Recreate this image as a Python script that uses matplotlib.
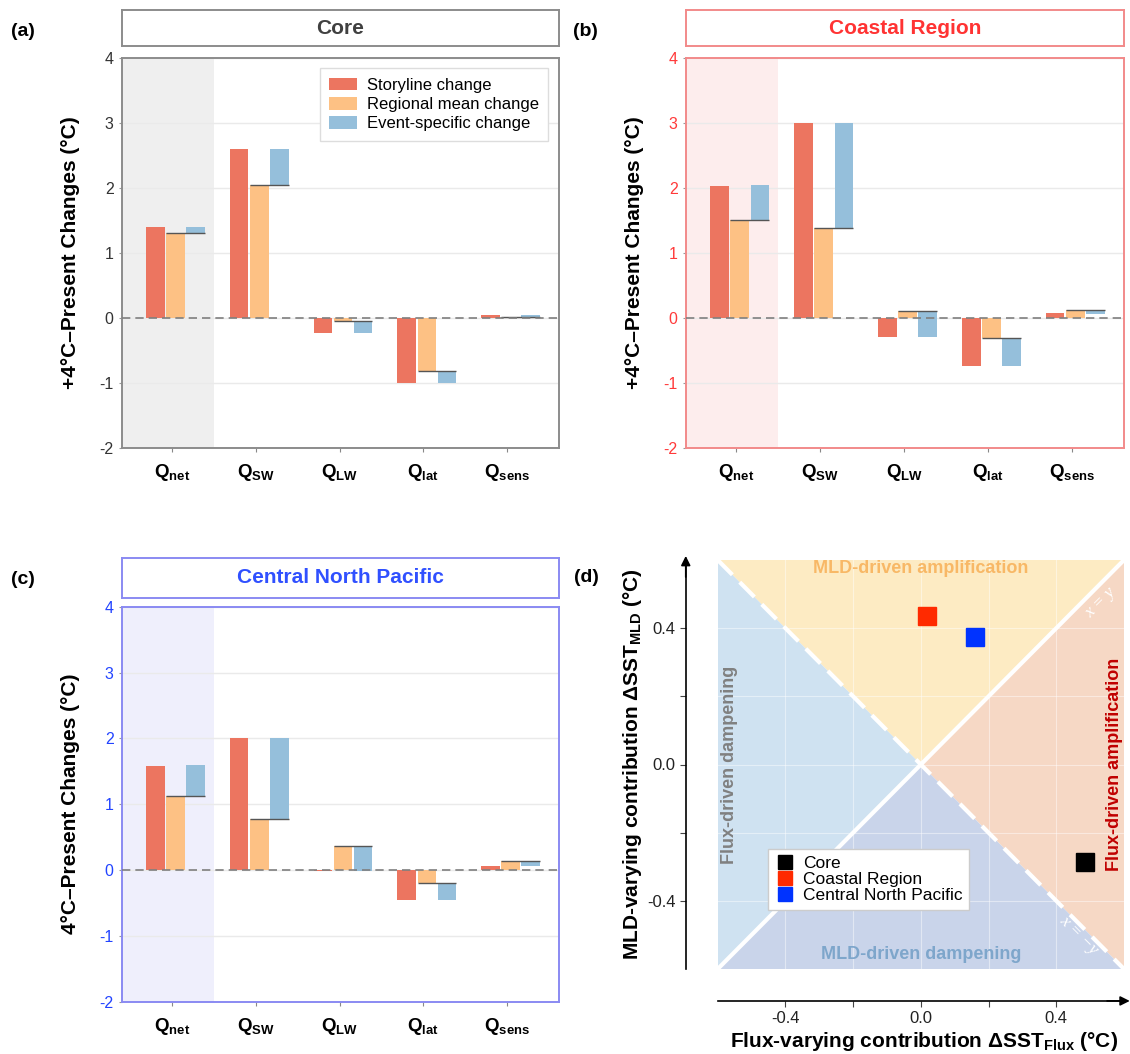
import matplotlib
matplotlib.use('Agg')
import matplotlib.pyplot as plt
import numpy as np

plt.rcParams['font.family'] = ['Liberation Sans', 'DejaVu Sans']
plt.rcParams['mathtext.fontset'] = 'custom'
plt.rcParams['mathtext.rm'] = 'Liberation Sans'
plt.rcParams['mathtext.bf'] = 'Liberation Sans:bold'
plt.rcParams['mathtext.it'] = 'Liberation Sans:italic'
plt.rcParams['axes.unicode_minus'] = False

# ---------------- data ----------------
categories = ['net', 'SW', 'LW', 'lat', 'sens']
tick_labels = [r'$\mathbf{Q_{net}}$', r'$\mathbf{Q_{SW}}$', r'$\mathbf{Q_{LW}}$',
               r'$\mathbf{Q_{lat}}$', r'$\mathbf{Q_{sens}}$']
series_names = ['Storyline change', 'Regional mean change', 'Event-specific change']

core_storyline = [1.40, 2.59, -0.24, -1.00, 0.035]
core_regional = [1.30, 2.04, -0.05, -0.82, 0.010]
core_event = [0.10, 0.56, -0.19, -0.18, 0.025]

coastal_storyline = [2.03, 2.99, -0.30, -0.74, 0.067]
coastal_regional = [1.50, 1.375, 0.10, -0.31, 0.113]
coastal_event = [0.54, 1.625, -0.40, -0.43, -0.05]

cnp_storyline = [1.58, 2.00, -0.01, -0.456, 0.056]
cnp_regional = [1.13, 0.78, 0.365, -0.198, 0.13]
cnp_event = [0.46, 1.22, -0.385, -0.26, -0.075]

region_names = ['Core', 'Coastal Region', 'Central North Pacific']
flux_contrib = [0.485, 0.019, 0.159]
mld_contrib = [-0.286, 0.437, 0.374]

# ---------------- style ----------------
C_STORY = '#EC7560'
C_REG = '#FDC184'
C_EVT = '#95BFDB'
W, H = 1130, 1054
fig = plt.figure(figsize=(W / 100, H / 100), dpi=100)


def fbox(x0, y0, x1, y1):
    return [x0 / W, 1 - y1 / H, (x1 - x0) / W, (y1 - y0) / H]


offsets = [-0.2, 0.04, 0.28]
bw = 0.22


def bar_panel(ax_rect, title_rect, storyline, regional, event, title, title_color,
              edge_color, tick_color, shade_color, ylabel, legend=False):
    ax = fig.add_axes(ax_rect)
    tax = fig.add_axes(title_rect)
    x = np.arange(len(categories))
    ax.set_xlim(-0.6, 4.62)
    ax.set_ylim(-2, 4)
    ax.axvspan(-0.6, 0.5, color=shade_color, zorder=0, lw=0)
    ax.set_axisbelow(True)
    ax.yaxis.grid(True, color='#EAEAEA', lw=1.0)
    ax.bar(x + offsets[0], storyline, width=bw, color=C_STORY, lw=0, zorder=2,
           label=series_names[0])
    ax.bar(x + offsets[1], regional, width=bw, color=C_REG, lw=0, zorder=2,
           label=series_names[1])
    ax.bar(x + offsets[2], event, bottom=regional, width=bw, color=C_EVT, lw=0,
           zorder=2, label=series_names[2])
    ax.hlines(regional, x + offsets[1] - bw / 2, x + offsets[2] + bw / 2,
              color='#555555', lw=1.0, zorder=3)
    ax.axhline(0, color='#7F7F7F', ls=(0, (5, 3)), lw=1.2, zorder=4)
    ax.set_xticks(x)
    ax.set_xticklabels(tick_labels, fontsize=13.5)
    ax.set_yticks(np.arange(-2, 5))
    ax.tick_params(axis='x', length=3, color='#888888', pad=7)
    ax.tick_params(axis='y', length=2, colors=tick_color, labelsize=11.5, pad=4)
    ax.tick_params(axis='y', color='#999999')
    for s in ax.spines.values():
        s.set_color(edge_color)
        s.set_linewidth(1.4)
    ax.set_ylabel(ylabel, fontsize=15, fontweight='bold', color='black',
                  va='center')
    ax.yaxis.set_label_coords(-0.117, 0.5)
    tax.set_xticks([])
    tax.set_yticks([])
    for s in tax.spines.values():
        s.set_color(edge_color)
        s.set_linewidth(1.4)
    tax.text(0.5, 0.5, title, ha='center', va='center', fontsize=15,
             fontweight='bold', color=title_color, transform=tax.transAxes)
    if legend:
        ax.legend(loc='upper right', fontsize=12, frameon=True, fancybox=False,
                  edgecolor='#DDDDDD', framealpha=1, handlelength=1.7,
                  handleheight=0.8, labelspacing=0.25, borderaxespad=0.65,
                  borderpad=0.55, handletextpad=0.6)
    return ax


bar_panel(fbox(122, 57.5, 559, 447.7), fbox(122, 10, 559, 46),
          core_storyline, core_regional, core_event, 'Core', '#404040',
          '#8C8C8C', '#333333', '#EFEFEF', '+4°C–Present Changes (°C)', legend=True)
bar_panel(fbox(686, 57.5, 1124, 447.7), fbox(686, 10, 1124, 46),
          coastal_storyline, coastal_regional, coastal_event, 'Coastal Region',
          '#FF3333', '#F28A8A', '#FF3A3A', '#FDEDED', '+4°C–Present Changes (°C)')
bar_panel(fbox(122, 606.7, 559, 1001.7), fbox(122, 558, 559, 597.7),
          cnp_storyline, cnp_regional, cnp_event, 'Central North Pacific',
          '#3050FF', '#8A8AF2', '#2244FF', '#EFEFFC', '4°C–Present Changes (°C)')

# ---------------- panel d ----------------
ax = fig.add_axes(fbox(717.7, 560, 1124, 969))
L = 0.6
ax.set_xlim(-L, L)
ax.set_ylim(-L, L)
ax.fill([-L, L, 0], [L, L, 0], color='#FDEBC3', lw=0, zorder=0.2)
ax.fill([L, L, 0], [L, -L, 0], color='#F6D8C5', lw=0, zorder=0.2)
ax.fill([-L, -L, 0], [L, -L, 0], color='#CFE2F1', lw=0, zorder=0.2)
ax.fill([-L, L, 0], [-L, -L, 0], color='#C9D4EA', lw=0, zorder=0.2)
ax.set_axisbelow(True)
ax.grid(True, color='white', alpha=0.45, lw=0.8)
ax.plot([-L, L], [-L, L], color='white', lw=3, zorder=1, solid_capstyle='butt')
ax.plot([-L, L], [L, -L], color='white', lw=3, ls=(0, (5, 2.5)), zorder=1)

marker_colors = ['#000000', '#FF2A00', '#0033FF']
for xv, yv, c, n in zip(flux_contrib, mld_contrib, marker_colors, region_names):
    ax.plot(xv, yv, marker='s', ms=12.3, color=c, ls='none', zorder=5, label=n)

ax.text(0, 0.575, 'MLD-driven amplification', ha='center', va='center',
        fontsize=13, fontweight='bold', color='#F8B866', zorder=3)
ax.text(0, -0.557, 'MLD-driven dampening', ha='center', va='center',
        fontsize=13, fontweight='bold', color='#7EA6CB', zorder=3)
ax.text(-0.565, 0.0, 'Flux-driven dampening', ha='center', va='center',
        rotation=90, fontsize=13, fontweight='bold', color='#808080', zorder=3)
ax.text(0.572, 0.0, 'Flux-driven amplification', ha='center', va='center',
        rotation=90, fontsize=13, fontweight='bold', color='#C00000', zorder=3)
ax.text(0.53, 0.475, 'x = y', ha='center', va='center', rotation=45,
        rotation_mode='anchor', fontsize=12.5, style='italic',
        family='Liberation Serif', color='white', zorder=3)
ax.text(0.466, -0.50, 'x = −y', ha='center', va='center', rotation=-45,
        rotation_mode='anchor', fontsize=12.5, style='italic',
        family=['Liberation Serif', 'DejaVu Serif'], color='white', zorder=3)

ax.legend(loc='upper left', bbox_to_anchor=(0.124, 0.293), borderaxespad=0,
          fontsize=12.5, frameon=True, fancybox=False, edgecolor='#CCCCCC',
          framealpha=1, markerscale=0.8, labelspacing=0.05, handletextpad=0.4,
          borderpad=0.4, handlelength=1.2)

for side in ['top', 'right']:
    ax.spines[side].set_visible(False)
for side in ['left', 'bottom']:
    ax.spines[side].set_position(('outward', 23))
    ax.spines[side].set_color('black')
    ax.spines[side].set_linewidth(1.2)

ax.set_xticks([-0.4, -0.2, 0.0, 0.2, 0.4])
ax.set_xticklabels(['-0.4', '', '0.0', '', '0.4'])
ax.set_yticks([-0.4, -0.2, 0.0, 0.2, 0.4])
ax.set_yticklabels(['-0.4', '', '0.0', '', '0.4'])
ax.tick_params(length=4, color='#444444', labelsize=12, labelcolor='#222222')

Tb = ax.spines['bottom'].get_spine_transform()
Tl = ax.spines['left'].get_spine_transform()
ax.annotate('', xy=(0.617, 0), xytext=(0.55, 0), xycoords=Tb, textcoords=Tb,
            arrowprops=dict(arrowstyle='-|>', color='black', lw=1.2,
                            mutation_scale=14, shrinkA=0, shrinkB=0),
            annotation_clip=False)
ax.annotate('', xy=(0, 0.612), xytext=(0, 0.55), xycoords=Tl, textcoords=Tl,
            arrowprops=dict(arrowstyle='-|>', color='black', lw=1.2,
                            mutation_scale=14, shrinkA=0, shrinkB=0),
            annotation_clip=False)

ax.set_xlabel(r'Flux-varying contribution ΔSST$_{\mathbf{Flux}}$ (°C)',
              fontsize=15, fontweight='bold', va='center')
ax.xaxis.set_label_coords(0.507, -0.178)
ax.set_ylabel(r'MLD-varying contribution ΔSST$_{\mathbf{MLD}}$ (°C)',
              fontsize=15, fontweight='bold', va='center')
ax.yaxis.set_label_coords(-0.209, 0.5)

# panel labels
for lbl, px, py in [('(a)', 11, 31), ('(b)', 573, 31), ('(c)', 11, 579), ('(d)', 574, 578)]:
    fig.text(px / W, 1 - py / H, lbl, fontsize=14, fontweight='bold',
             ha='left', va='center')

fig.savefig('out.png', dpi=100)
